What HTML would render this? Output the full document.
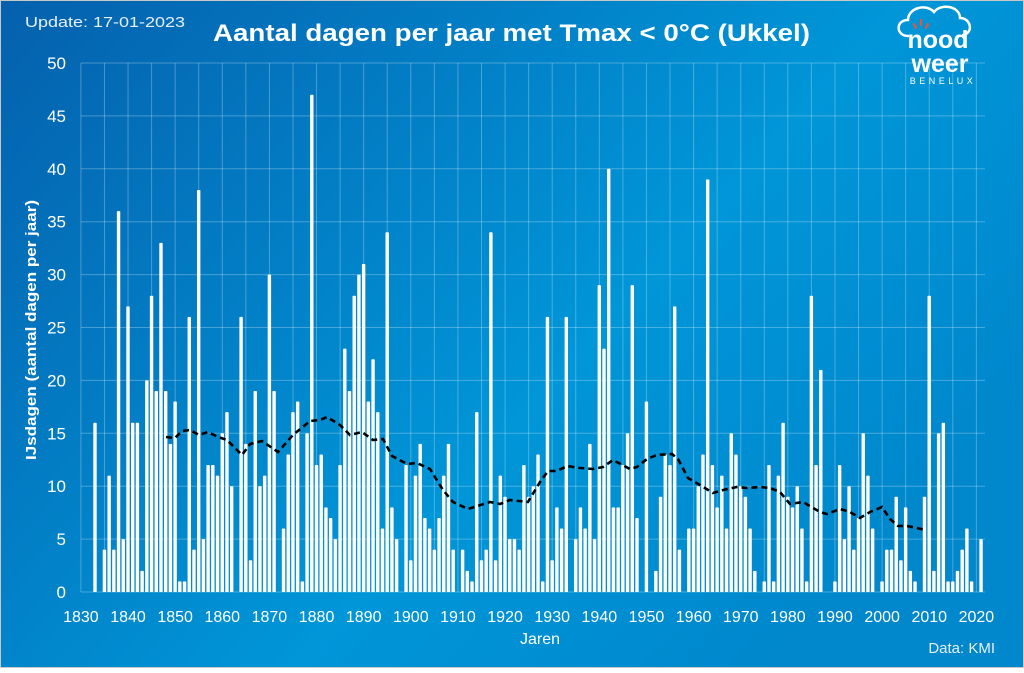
<!DOCTYPE html>
<html><head><meta charset="utf-8"><style>
html,body{margin:0;padding:0}
body{width:1024px;height:668px;overflow:hidden;font-family:"Liberation Sans",sans-serif}
</style></head><body>
<svg width="1024" height="668" xmlns="http://www.w3.org/2000/svg">
<defs>
<linearGradient id="bg" x1="0" y1="0" x2="1" y2="0.6">
<stop offset="0" stop-color="#0560ad"/>
<stop offset="0.65" stop-color="#0096d8"/>
<stop offset="1" stop-color="#0087cc"/>
</linearGradient>
</defs>
<rect x="0" y="0" width="1024" height="668" fill="url(#bg)"/>
<rect x="0.5" y="0.5" width="1023" height="667" fill="none" stroke="#c8c8c8"/>
<g id="grid" stroke="#ffffff" stroke-opacity="0.28" stroke-width="1"></g>
<g id="bars" fill="#ffffff"></g>
<polyline id="ma" fill="none" stroke="#000" stroke-width="2.6" stroke-dasharray="6,4" points=""/>
<g fill="#fff" font-size="17" text-anchor="end" id="ylab"></g>
<g fill="#fff" font-size="16" text-anchor="middle" id="xlab"></g>
<text x="25" y="27" fill="#e6f0fa" font-size="15" textLength="160" lengthAdjust="spacingAndGlyphs">Update: 17-01-2023</text>
<text x="213" y="41" fill="#fff" font-size="24" font-weight="bold" textLength="597" lengthAdjust="spacingAndGlyphs">Aantal dagen per jaar met Tmax &lt; 0°C (Ukkel)</text>
<text x="540" y="644" fill="#fff" font-size="16" text-anchor="middle">Jaren</text>
<text x="995" y="653" fill="#e6f0fa" font-size="15" text-anchor="end">Data: KMI</text>
<text transform="translate(36,460) rotate(-90)" fill="#fff" font-size="15" font-weight="bold" textLength="260" lengthAdjust="spacingAndGlyphs">IJsdagen (aantal dagen per jaar)</text>
<g>
<path d="M908 36 C896 36 895 20 908 20 C908 8 926 3 934 12 C941 3 960 6 960 18 C971 18 974 33 963 35" fill="none" stroke="#fff" stroke-width="2.5" stroke-linecap="round"/>
<g stroke="#e8533a" stroke-width="2.2" stroke-linecap="round"><line x1="921" y1="20" x2="921" y2="25"/><line x1="914" y1="24" x2="916" y2="28"/><line x1="928" y1="24" x2="926" y2="28"/></g>
<text x="938" y="48" fill="#fff" font-size="25" font-weight="bold" text-anchor="middle">nood</text>
<text x="940" y="72" fill="#fff" font-size="25" font-weight="bold" text-anchor="middle">weer</text>
<text x="943" y="84" fill="#fff" font-size="9" text-anchor="middle" letter-spacing="3.5">BENELUX</text>
</g>
</svg>
<script>
var v=[16,0,4,11,4,36,5,27,16,16,2,20,28,19,33,19,14,18,1,1,26,4,38,5,12,12,11,15,17,10,0,26,14,3,19,10,11,30,19,0,6,13,17,18,1,15,47,
12,13,8,7,5,12,23,19,28,30,31,18,22,17,6,34,8,5,0,12,3,11,14,7,6,4,7,11,14,4,0,4,2,1,17,3,4,34,3,11,9,5,5,4,12,9,10,13,1,26,
3,8,6,26,0,5,8,6,14,5,29,23,40,8,8,12,15,29,7,0,18,0,2,9,13,12,27,4,0,6,6,10,13,39,12,8,11,6,15,13,10,9,6,2,0,1,12,1,11,
16,9,8,10,6,1,28,12,21,0,0,1,12,5,10,4,7,15,11,6,0,1,4,4,9,3,8,2,1,0,9,28,2,15,16,1,1,2,4,6,1,0,5];
var ns="http://www.w3.org/2000/svg";
function X(i){return 95+i*4.713;}
function Y(val){return 592-val*10.58;}
var g=document.getElementById('grid');
function ln(p,x1,y1,x2,y2){var l=document.createElementNS(ns,'line');l.setAttribute('x1',x1);l.setAttribute('y1',y1);l.setAttribute('x2',x2);l.setAttribute('y2',y2);p.appendChild(l);}
for(var k=0;k<=10;k++){ln(g,81,Y(k*5),985,Y(k*5));}
for(var k=0;k<=38;k++){var x=80.9+k*23.565;if(x<=986)ln(g,x,63,x,592);}
var b=document.getElementById('bars');
for(var i=0;i<v.length;i++){if(!v[i])continue;var r=document.createElementNS(ns,'rect');r.setAttribute('x',X(i)-1.7);r.setAttribute('y',Y(v[i]));r.setAttribute('width',3.4);r.setAttribute('height',v[i]*10.58);r.setAttribute('rx',0.8);b.appendChild(r);}
var yl=document.getElementById('ylab');
for(var k=0;k<=10;k++){var t=document.createElementNS(ns,'text');t.setAttribute('x',66);t.setAttribute('y',Y(k*5)+6);t.textContent=k*5;yl.appendChild(t);}
var xl=document.getElementById('xlab');
for(var k=0;k<=19;k++){var t=document.createElementNS(ns,'text');t.setAttribute('x',80.9+k*47.13);t.setAttribute('y',622);t.textContent=1830+k*10;xl.appendChild(t);}
document.getElementById('ma').setAttribute('points',"166,437 175,438 182,431 190,430 199,435 208,432 218,437 227,440 242,455 250,444 262,441 278,452 293,435 310,421 320,420 327,417 340,425 350,435 362,432 373,440 383,439 392,456 407,464 417,463 430,469 443,490 453,502 468,509 490,502 500,504 510,500 528,502 540,482 548,471 557,471 567,466 580,468 593,469 603,467 613,460 630,469 637,467 647,459 657,455 672,454 678,459 688,478 700,485 713,493 723,490 737,487 747,488 760,487 770,488 780,492 790,504 803,502 820,512 827,514 840,509 850,512 860,518 870,512 882,507 890,519 898,526 907,526 917,528 925,530");
</script>
</body></html>
